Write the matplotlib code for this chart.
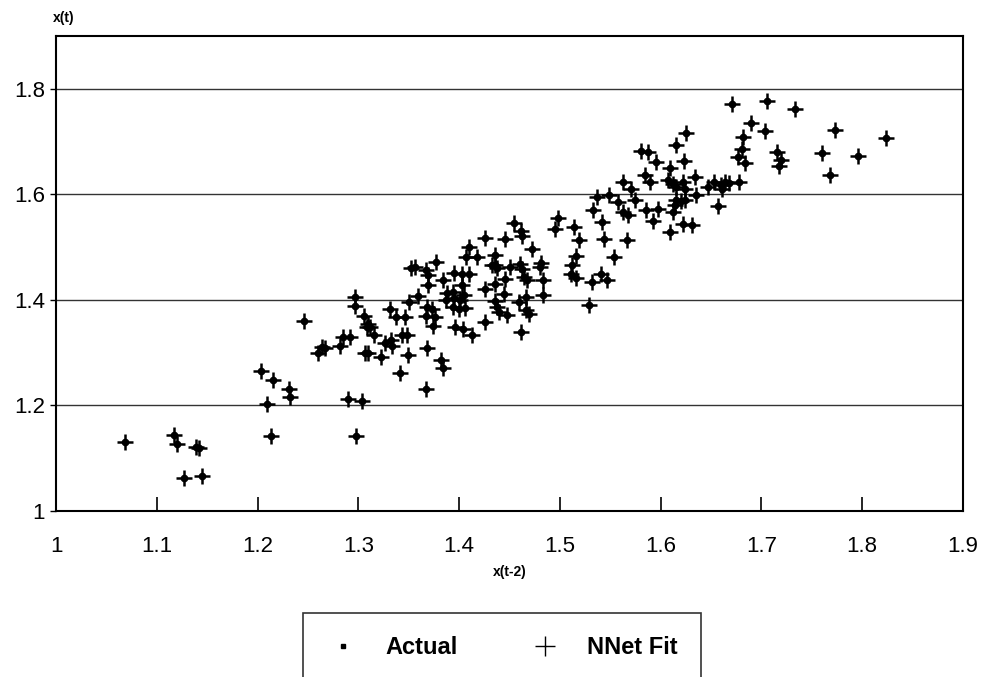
import numpy as np
import matplotlib
matplotlib.use("Agg")
import matplotlib.pyplot as plt
from matplotlib.lines import Line2D

plt.rcParams['font.family'] = ['Liberation Sans', 'DejaVu Sans']

# x(t-2) values
x_lag = [
    1.068, 1.117, 1.120, 1.142, 1.139, 1.127, 1.145, 1.203, 1.215, 1.231,
    1.232, 1.209, 1.213, 1.246, 1.260, 1.264, 1.267, 1.282, 1.285, 1.292,
    1.290, 1.304, 1.298, 1.297, 1.297, 1.306, 1.310, 1.309, 1.312, 1.316,
    1.307, 1.310, 1.322, 1.326, 1.332, 1.333, 1.331, 1.337, 1.346, 1.343,
    1.348, 1.349, 1.341, 1.350, 1.352, 1.356, 1.359, 1.367, 1.368, 1.373,
    1.376, 1.367, 1.369, 1.369, 1.374, 1.368, 1.367, 1.377, 1.382, 1.384,
    1.384, 1.387, 1.395, 1.388, 1.394, 1.395, 1.403, 1.410, 1.403, 1.394,
    1.400, 1.406, 1.401, 1.405, 1.396, 1.404, 1.413, 1.407, 1.418, 1.410,
    1.426, 1.426, 1.426, 1.436, 1.433, 1.436, 1.438, 1.436, 1.436, 1.438,
    1.440, 1.446, 1.454, 1.461, 1.462, 1.450, 1.460, 1.462, 1.446, 1.445,
    1.448, 1.467, 1.464, 1.466, 1.459, 1.466, 1.469, 1.461, 1.472, 1.481,
    1.480, 1.483, 1.483, 1.495, 1.498, 1.514, 1.519, 1.516, 1.512, 1.511,
    1.516, 1.529, 1.532, 1.541, 1.547, 1.533, 1.537, 1.549, 1.542, 1.544,
    1.554, 1.558, 1.563, 1.571, 1.563, 1.568, 1.567, 1.575, 1.580, 1.587,
    1.595, 1.584, 1.589, 1.585, 1.592, 1.597, 1.609, 1.607, 1.612, 1.615,
    1.622, 1.624, 1.623, 1.615, 1.625, 1.615, 1.620, 1.624, 1.614, 1.612,
    1.622, 1.631, 1.609, 1.634, 1.635, 1.647, 1.653, 1.660, 1.664, 1.668,
    1.661, 1.678, 1.657, 1.677, 1.684, 1.681, 1.682, 1.690, 1.704, 1.671,
    1.706, 1.733, 1.715, 1.719, 1.717, 1.760, 1.768, 1.773, 1.796, 1.824,
]

# x(t) actual values
x_t = [
    1.130, 1.144, 1.127, 1.119, 1.121, 1.062, 1.067, 1.266, 1.248, 1.232,
    1.216, 1.203, 1.142, 1.360, 1.299, 1.311, 1.308, 1.313, 1.329, 1.330,
    1.213, 1.209, 1.142, 1.405, 1.389, 1.369, 1.355, 1.349, 1.349, 1.333,
    1.300, 1.299, 1.292, 1.318, 1.324, 1.313, 1.382, 1.367, 1.368, 1.333,
    1.333, 1.295, 1.262, 1.396, 1.460, 1.462, 1.407, 1.369, 1.386, 1.382,
    1.368, 1.456, 1.447, 1.428, 1.350, 1.308, 1.232, 1.472, 1.287, 1.271,
    1.438, 1.399, 1.403, 1.413, 1.415, 1.451, 1.450, 1.450, 1.429, 1.387,
    1.383, 1.385, 1.400, 1.409, 1.348, 1.345, 1.333, 1.482, 1.482, 1.501,
    1.517, 1.420, 1.358, 1.486, 1.466, 1.466, 1.461, 1.431, 1.398, 1.386,
    1.378, 1.516, 1.546, 1.531, 1.521, 1.463, 1.468, 1.458, 1.439, 1.411,
    1.372, 1.438, 1.444, 1.406, 1.396, 1.381, 1.374, 1.340, 1.496, 1.469,
    1.463, 1.438, 1.409, 1.534, 1.556, 1.538, 1.513, 1.483, 1.467, 1.449,
    1.442, 1.391, 1.433, 1.449, 1.438, 1.570, 1.595, 1.598, 1.547, 1.516,
    1.482, 1.586, 1.624, 1.611, 1.566, 1.561, 1.514, 1.589, 1.683, 1.681,
    1.662, 1.637, 1.624, 1.570, 1.550, 1.573, 1.649, 1.627, 1.619, 1.614,
    1.624, 1.610, 1.664, 1.693, 1.717, 1.589, 1.588, 1.589, 1.580, 1.567,
    1.544, 1.541, 1.529, 1.633, 1.598, 1.614, 1.624, 1.617, 1.623, 1.621,
    1.611, 1.624, 1.578, 1.670, 1.659, 1.685, 1.709, 1.735, 1.720, 1.771,
    1.777, 1.761, 1.680, 1.665, 1.653, 1.679, 1.636, 1.722, 1.673, 1.707,
]

# the network fit markers sit on the actual points
x_fit = x_t

x_ticks = [1, 1.1, 1.2, 1.3, 1.4, 1.5, 1.6, 1.7, 1.8, 1.9]
x_tick_labels = ['1', '1.1', '1.2', '1.3', '1.4', '1.5', '1.6', '1.7', '1.8', '1.9']
y_ticks = [1, 1.2, 1.4, 1.6, 1.8]
y_tick_labels = ['1', '1.2', '1.4', '1.6', '1.8']

fig = plt.figure(figsize=(9.86, 6.77), dpi=100)
ax = fig.add_axes([56/986, 1-511/677, (963-56)/986, (511-36)/677])

for v in y_ticks[1:]:
    ax.axhline(v, color='#333333', linewidth=1.0, zorder=1)

ax.plot(x_lag, x_fit, linestyle='none', marker='+', markersize=12,
        markeredgewidth=1.8, color='black', zorder=3)
ax.plot(x_lag, x_t, linestyle='none', marker='o', markersize=4.5,
        color='black', zorder=4)

ax.set_xlim(1, 1.9)
ax.set_ylim(1, 1.9)
ax.set_xticks(x_ticks)
ax.set_xticklabels(x_tick_labels, fontsize=16)
ax.set_yticks(y_ticks)
ax.set_yticklabels(y_tick_labels, fontsize=16)
ax.tick_params(axis='x', direction='in', length=10, width=1.2, pad=18)
ax.tick_params(axis='y', direction='out', length=4, width=1.0, pad=4)
for s in ax.spines.values():
    s.set_linewidth(1.5)
    s.set_color('black')

fig.text(53/986, 1-18/677, 'x(t)', fontsize=10, fontweight='bold', va='center', ha='left')
fig.text(510/986, 1-572/677, 'x(t-2)', fontsize=10, fontweight='bold', va='center', ha='center')

handles = [
    Line2D([], [], linestyle='none', marker='s', markersize=3.5, color='black'),
    Line2D([], [], linestyle='none', marker='+', markersize=14, markeredgewidth=1.0, color='black'),
]
leg = fig.legend(handles, ['Actual', 'NNet Fit'], loc='center',
                 bbox_to_anchor=(502/986, 1-648/677), ncol=2, fontsize=17,
                 frameon=True, fancybox=False, edgecolor='black',
                 handletextpad=1.1, columnspacing=3.0, borderpad=1.0,
                 handlelength=1.4)
leg.get_frame().set_linewidth(1.2)
for t in leg.get_texts():
    t.set_fontweight('bold')

fig.savefig('out.png', dpi=100)
